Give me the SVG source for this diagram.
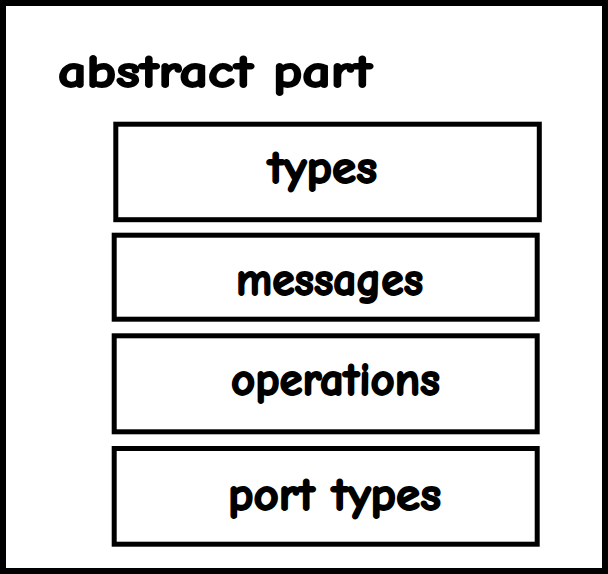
<svg xmlns="http://www.w3.org/2000/svg" width="608" height="574" viewBox="0 0 608 574">
  <style>
    .frame { fill: #ffffff; stroke: #000000; stroke-width: 6; }
    .box { fill: #ffffff; stroke: #000000; stroke-width: 5; }
    .lbl { font-family: "Comic Sans MS", "Comic Neue", "Open Sans", "DejaVu Sans", sans-serif; font-weight: bold; font-size: 46px; fill: #000000; stroke: #000000; stroke-width: 1.8; stroke-linejoin: round; }
  </style>
  <rect width="608" height="574" fill="#ffffff"/>
  <g id="abstract-part">
    <rect class="frame" x="3" y="3" width="602" height="568"/>
    <text class="lbl" x="58" y="87" textLength="314" lengthAdjust="spacingAndGlyphs">abstract part</text>
  </g>
  <g id="types">
    <rect class="box" x="115.8" y="124.2" width="423.5" height="95.5"/>
    <text class="lbl" x="268" y="183" textLength="109" lengthAdjust="spacingAndGlyphs">types</text>
  </g>
  <g id="messages">
    <rect class="box" x="114.2" y="235.2" width="423" height="84"/>
    <text class="lbl" x="236" y="295" textLength="187" lengthAdjust="spacingAndGlyphs">messages</text>
  </g>
  <g id="operations">
    <rect class="box" x="114.2" y="335.8" width="423" height="96"/>
    <text class="lbl" x="231" y="395" textLength="209" lengthAdjust="spacingAndGlyphs">operations</text>
  </g>
  <g id="port-types">
    <rect class="box" x="114.2" y="448.5" width="423" height="95.7"/>
    <text class="lbl" x="228" y="510" textLength="213" lengthAdjust="spacingAndGlyphs">port types</text>
  </g>
  <g id="connectors"></g>
</svg>
